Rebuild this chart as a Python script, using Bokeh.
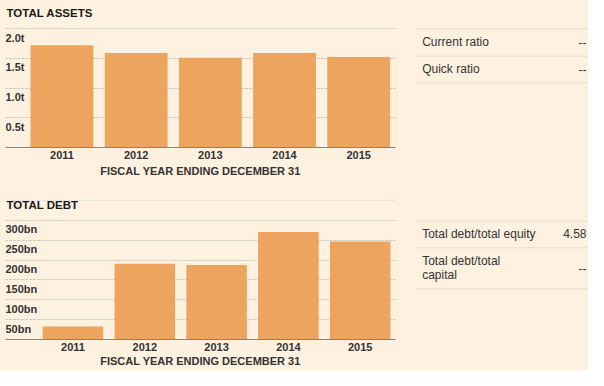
from bokeh.plotting import figure
from bokeh.models import Range1d, FixedTicker, Grid
from bokeh.layouts import column, row
from bokeh.core.properties import value
from bokeh.embed import file_html
from bokeh.resources import INLINE

# ---- data ----
years = ["2011", "2012", "2013", "2014", "2015"]
assets = [1.72, 1.59, 1.51, 1.59, 1.52]          # trillions
asset_ticks = [0.5, 1.0, 1.5, 2.0]
asset_tick_labels = ["0.5t", "1.0t", "1.5t", "2.0t"]
debt = [33, 191, 188, 271, 247]                  # billions
debt_ticks = [50, 100, 150, 200, 250, 300]
debt_tick_labels = ["50bn", "100bn", "150bn", "200bn", "250bn", "300bn"]
ratio_names_top = ["Current ratio", "Quick ratio"]
ratio_values_top = ["--", "--"]
ratio_names_bottom = ["Total debt/total equity", "Total debt/total\ncapital"]
ratio_values_bottom = ["4.58", "--"]

BG = "#fff1e0"
BAR = "#eda45e"
TXT = "#333333"
GRID = "#c9bfb2"
RULE = "#e6dccd"
FONT = "Liberation Sans"

idx = list(range(len(years)))
CHART_W = 405
TABLE_W = 183


def chart(title, vals, ticks, tick_labels, ytop, xstart, xend, width_frac,
          height, bottom, title_y, label_standoff):
    # the frame reaches the top of the panel so the heading sits inside it;
    # ytop is the value at the panel's top edge (above the highest gridline)
    p = figure(width=CHART_W, height=height, output_backend="svg", toolbar_location=None,
               x_range=Range1d(xstart, xend), y_range=Range1d(0, ytop),
               y_axis_location=None, min_border_left=5, min_border_right=10,
               min_border_top=0, min_border_bottom=bottom)
    p.background_fill_color = BG
    p.border_fill_color = BG
    p.outline_line_color = None
    p.xgrid.visible = False

    p.text(x=[xstart], y=[ytop], text=[title], x_offset=1, y_offset=title_y,
           text_font=value(FONT), text_font_size="11.5px", text_font_style="bold",
           text_color="#1a1a1a", text_align="left", text_baseline="middle")

    g = Grid(dimension=1, ticker=FixedTicker(ticks=ticks), grid_line_color=GRID,
             grid_line_dash="2 2", grid_line_width=1)
    p.add_layout(g)

    p.vbar(x=idx, top=vals, width=width_frac, fill_color=BAR, line_color=None)

    p.text(x=[xstart] * len(ticks), y=ticks, text=tick_labels,
           text_font=value(FONT), text_font_size="11px", text_font_style="bold",
           text_color=TXT, text_align="left", text_baseline="top", y_offset=3)

    ax = p.xaxis[0]
    ax.ticker = FixedTicker(ticks=idx)
    ax.major_label_overrides = {i: y for i, y in zip(idx, years)}
    ax.major_tick_line_color = None
    ax.minor_tick_line_color = None
    ax.major_tick_out = 0
    ax.major_tick_in = 0
    ax.minor_tick_out = 0
    ax.major_label_standoff = 3
    ax.axis_line_color = "#8c8279"
    ax.major_label_text_font = FONT
    ax.major_label_text_font_size = "11px"
    ax.major_label_text_font_style = "bold"
    ax.major_label_text_color = TXT
    ax.axis_label = "FISCAL YEAR ENDING DECEMBER 31"
    ax.axis_label_text_font = FONT
    ax.axis_label_text_font_size = "11px"
    ax.axis_label_text_font_style = "bold"
    ax.axis_label_text_color = TXT
    ax.axis_label_standoff = label_standoff
    return p


def table(height, bottom, rules, names, vals, name_ys, val_ys):
    # data coordinates of this panel equal its own pixel rows
    t = figure(width=TABLE_W, height=height, output_backend="svg", toolbar_location=None,
               x_range=Range1d(0, TABLE_W), y_range=Range1d(height - bottom, 0),
               x_axis_location=None, y_axis_location=None,
               min_border_left=0, min_border_right=0,
               min_border_top=0, min_border_bottom=bottom)
    t.background_fill_color = BG
    t.border_fill_color = BG
    t.outline_line_color = None
    t.grid.visible = False
    t.segment(x0=[10.7] * len(rules), x1=[TABLE_W] * len(rules), y0=rules, y1=rules,
              line_color=RULE, line_width=1)
    t.text(x=[16.7] * len(names), y=name_ys, text=names, text_font=value(FONT),
           text_font_size="12px", text_color=TXT, text_align="left",
           text_baseline="middle", text_line_height=1.0)
    t.text(x=[181] * len(vals), y=val_ys, text=vals, text_font=value(FONT),
           text_font_size="12px", text_color=TXT, text_align="right",
           text_baseline="middle")
    return t


H1, H2 = 186, 184
# top panel: baseline at 147px, 2.0t gridline at 28px  -> 2.0 * 147 / 119
p1 = chart("TOTAL ASSETS", assets, asset_ticks, asset_tick_labels, 2.0 * 147 / 119,
           -0.761, 4.496, 0.847, H1, H1 - 147, 12.5, 3)
t1 = table(H1, H1 - 147, [28.4, 55.7, 82.3], ratio_names_top, ratio_values_top,
           [41.7, 68.7], [41.7, 68.7])

# bottom panel: baseline at 153.3px, 300bn gridline at 34px
p2 = chart("TOTAL DEBT", debt, debt_ticks, debt_tick_labels, 300 * 153.3 / 119.3,
           -0.940, 4.4916, 0.843, H2, H2 - 153, 18.7, 1)
t2 = table(H2, H2 - 153, [34.7, 61.3, 102.3], ratio_names_bottom, ratio_values_bottom,
           [47.3, 81.8], [47.3, 82.0])

layout = column(row(p1, t1, styles={"background-color": BG}),
                row(p2, t2, styles={"background-color": BG}),
                styles={"background-color": BG})

open("out.html", "w").write(file_html(layout, INLINE))
